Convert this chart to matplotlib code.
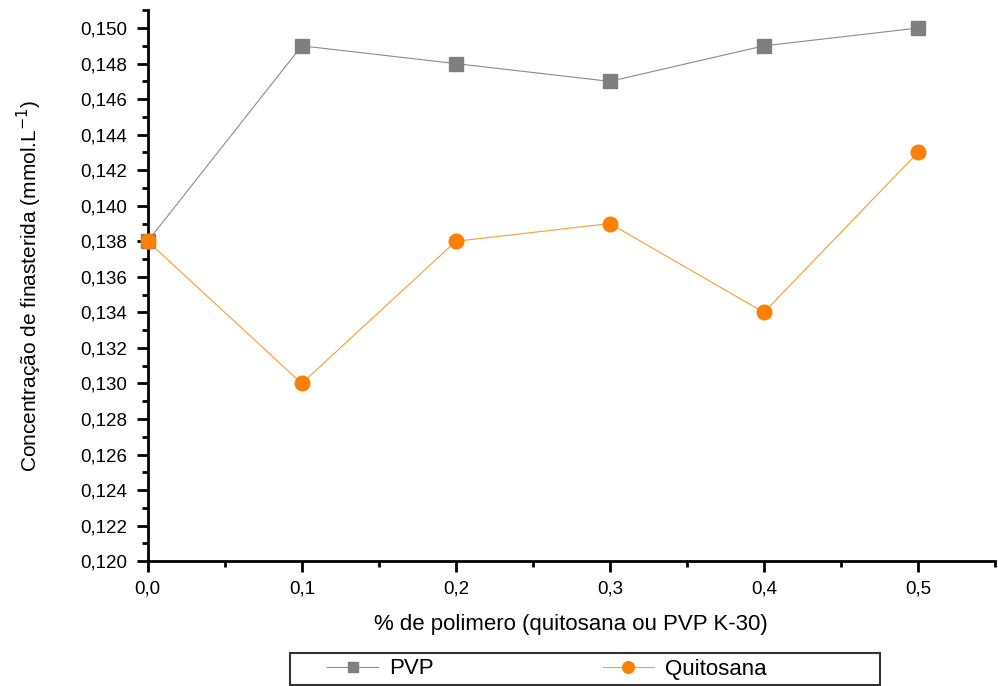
import matplotlib.pyplot as plt
from matplotlib.patches import Rectangle
from matplotlib.ticker import MultipleLocator, FuncFormatter

plt.rcParams['font.family'] = ['Liberation Sans', 'DejaVu Sans']

polimero = [0.0, 0.1, 0.2, 0.3, 0.4, 0.5]
pvp = [0.138, 0.149, 0.148, 0.147, 0.149, 0.150]
quitosana = [0.138, 0.130, 0.138, 0.139, 0.134, 0.143]

fig = plt.figure(figsize=(9.98, 6.86), dpi=100)
ax = fig.add_axes([0.148, 0.182, 0.849, 0.803])

ax.plot(polimero, pvp, color='#8c8c8c', lw=0.8, marker='s', ms=9.5,
        mfc='#7f7f7f', mec='#7f7f7f', label='PVP', clip_on=False, zorder=3)
ax.plot(polimero, quitosana, color='#f5a030', lw=0.8, marker='o', ms=10.5,
        mfc='#ff7f00', mec='#ff7f00', label='Quitosana', clip_on=False, zorder=3)

ax.set_xlim(0, 0.55)
ax.set_ylim(0.120, 0.151)
ax.xaxis.set_major_locator(MultipleLocator(0.1))
ax.xaxis.set_minor_locator(MultipleLocator(0.05))
ax.yaxis.set_major_locator(MultipleLocator(0.002))
ax.yaxis.set_minor_locator(MultipleLocator(0.001))
ax.xaxis.set_major_formatter(FuncFormatter(lambda v, p: f'{v:.1f}'.replace('.', ',')))
ax.yaxis.set_major_formatter(FuncFormatter(lambda v, p: f'{v:.3f}'.replace('.', ',')))

for s in ['top', 'right']:
    ax.spines[s].set_visible(False)
for s in ['left', 'bottom']:
    ax.spines[s].set_linewidth(2)
ax.tick_params(which='major', length=8, width=2, labelsize=13.5, colors='black', pad=6)
ax.tick_params(which='minor', length=4, width=2)
ax.tick_params(axis='y', pad=7)

ax.set_xlabel('% de polimero (quitosana ou PVP K-30)', fontsize=16, labelpad=12)
ax.set_ylabel('Concentração de finasterida (mmol.L$^{-1}$)', fontsize=15, labelpad=26)

# legend box below the plot
fig.patches.append(Rectangle((290 / 998, 1 / 686), 590 / 998, 32 / 686,
                             transform=fig.transFigure, fill=False,
                             edgecolor='#333333', lw=1.5))
fig.legend(loc='center left', ncol=2, bbox_to_anchor=(327 / 998, 1 - 669 / 686),
           fontsize=16, frameon=False, borderpad=0, borderaxespad=0,
           handlelength=2.3, handletextpad=0.5, columnspacing=7.6,
           markerscale=0.8)

fig.savefig('out.png', dpi=100)
